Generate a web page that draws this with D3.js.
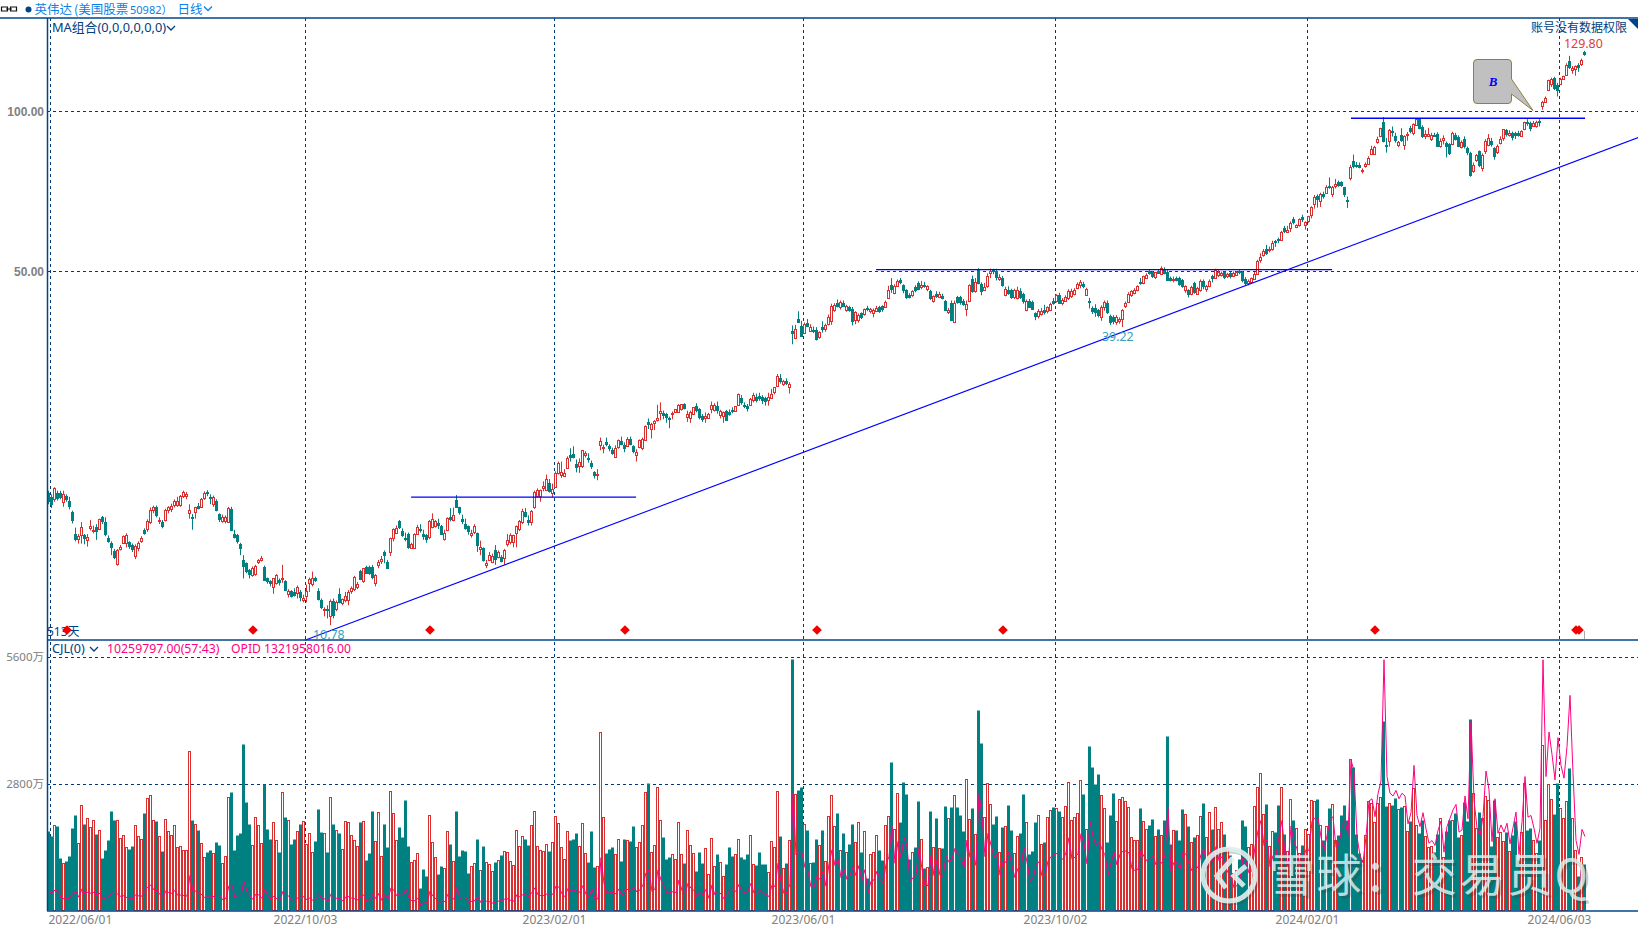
<!DOCTYPE html>
<html><head><meta charset="utf-8"><style>
html,body{margin:0;padding:0;background:#fff;overflow:hidden}
svg{display:block}
text{font-family:"Noto Sans","Noto Sans CJK SC",sans-serif}
</style><script src="https://cdnjs.cloudflare.com/ajax/libs/d3/7.8.5/d3.min.js"></script></head><body><svg id="c" width="1638" height="929"></svg>
<script>
// [open, high, low, close] per trading day (US$, log price panel)
const ohlc=[
/*0*/[19.10,19.3,18.2,18.35],[18.8,19.0,17.9,18.15],[18.6,19.6,18.4,19.55],[19.1,19.3,18.5,18.6],[19.1,19.3,18.6,18.7],[18.35,19.3,18.0,19.0],[18.85,19.0,18.4,18.55],[18.5,18.8,17.8,18.0],[17.6,17.7,16.75,16.9],[16.0,16.45,15.5,15.6],
/*10*/[15.65,16.0,15.35,15.85],[15.95,16.85,15.35,16.5],[15.9,16.0,15.3,15.6],[15.6,16.0,15.15,15.8],[16.4,17.0,16.25,16.55],[16.2,16.6,16.05,16.3],[16.5,16.7,15.6,16.15],[16.4,17.1,16.3,17.1],[17.2,17.3,16.7,16.85],[16.85,17.2,15.85,15.9],
/*20*/[15.75,15.9,15.4,15.45],[15.4,15.5,14.6,15.1],[14.85,15.0,14.35,14.4],[14.1,15.0,13.95,14.95],[15.0,15.25,14.9,15.1],[15.4,15.9,15.35,15.85],[15.35,16.05,15.1,15.9],[15.45,15.5,15.0,15.1],[15.25,15.35,14.8,14.95],[14.55,15.3,14.35,15.2],
/*30*/[15.1,15.5,14.85,15.4],[15.55,15.85,15.4,15.75],[16.25,16.4,15.95,16.0],[16.4,17.05,16.15,16.95],[16.85,17.95,16.7,17.75],[17.8,18.1,17.5,18.0],[17.95,18.1,17.2,17.25],[16.9,17.2,16.7,17.0],[16.85,17.0,16.4,16.5],[17.0,17.85,16.9,17.75],
/*40*/[17.75,18.05,17.5,18.0],[17.9,18.25,17.6,18.1],[18.15,18.6,17.95,18.45],[18.15,18.8,18.0,18.5],[18.1,18.95,18.0,18.85],[18.85,19.3,18.7,19.2],[18.85,19.2,18.6,19.05],[17.5,18.2,17.1,17.75],[17.2,17.45,16.3,17.05],[17.6,18.0,17.1,18.0],
/*50*/[18.05,18.3,17.8,17.85],[18.05,18.7,17.95,18.65],[18.7,19.25,18.55,19.1],[19.2,19.35,18.85,19.0],[18.75,19.0,18.2,18.55],[18.2,18.9,18.0,18.75],[18.5,18.6,17.65,17.75],[17.45,17.5,16.85,17.0],[16.95,17.4,16.8,17.25],[16.9,17.35,16.75,17.2],
/*60*/[16.85,18.0,16.8,17.9],[17.85,18.0,16.2,16.25],[16.0,16.3,15.7,15.75],[15.9,16.0,15.35,15.4],[15.35,15.4,14.6,15.0],[14.3,14.6,13.2,13.9],[14.1,14.15,13.5,13.55],[13.7,13.75,13.2,13.4],[13.4,13.9,13.3,13.8],[13.45,14.0,13.35,13.95],
/*70*/[14.15,14.35,14.05,14.3],[14.3,14.55,14.2,14.4],[13.85,13.95,13.05,13.05],[13.2,13.25,12.9,13.0],[13.05,13.1,12.75,12.9],[12.7,13.2,12.35,13.2],[12.95,13.45,12.85,13.4],[13.1,13.2,12.8,12.95],[13.2,14.0,12.95,13.25],[13.05,13.1,12.5,12.5],
/*80*/[12.35,12.6,12.15,12.5],[12.5,12.55,12.15,12.2],[12.45,12.65,12.2,12.25],[12.35,12.8,12.1,12.7],[12.45,12.55,11.95,12.15],[12.05,12.3,11.9,12.15],[12.25,12.85,11.9,12.5],[12.9,13.25,12.45,13.15],[12.9,13.6,12.75,13.25],[13.2,13.3,13.0,13.05],
/*90*/[12.5,12.65,12.0,12.0],[12.0,12.1,11.55,11.6],[11.5,11.65,11.2,11.55],[11.55,11.75,11.1,11.5],[11.2,12.05,10.78,11.95],[11.95,12.1,11.1,11.2],[11.55,12.0,11.45,11.9],[12.35,12.65,11.85,11.9],[11.85,12.1,11.75,12.05],[12.05,12.45,11.9,12.25],
/*100*/[12.05,12.55,11.75,12.45],[12.5,12.75,12.35,12.65],[12.65,13.35,12.5,13.3],[12.75,13.0,12.6,12.9],[13.65,13.7,13.1,13.1],[13.05,13.8,12.95,13.8],[13.85,13.95,13.45,13.45],[13.85,13.95,13.4,13.45],[13.85,14.0,13.15,13.2],[12.95,13.45,12.75,13.4],
/*110*/[13.95,14.3,13.8,14.15],[14.2,14.55,14.05,14.35],[14.8,14.9,14.1,14.55],[14.2,14.3,13.75,13.75],[14.75,15.75,14.55,15.7],[15.7,16.4,15.5,16.35],[16.1,16.6,16.0,16.45],[16.9,17.0,16.35,16.4],[16.2,16.4,15.8,15.85],[15.7,16.1,15.5,15.55],
/*120*/[16.0,16.1,15.0,15.05],[15.05,15.4,15.0,15.3],[15.05,16.05,15.0,16.0],[16.0,16.65,15.95,16.5],[16.35,16.7,16.1,16.2],[16.0,16.3,15.6,15.8],[15.9,16.0,15.4,15.55],[15.75,17.0,15.65,16.9],[16.55,17.5,16.4,17.1],[16.55,17.0,16.45,16.9],
/*130*/[16.75,17.1,16.35,16.55],[16.6,16.65,15.95,15.95],[15.7,16.3,15.55,16.1],[16.3,17.2,16.2,17.15],[17.2,17.9,16.9,16.95],[16.95,17.95,16.9,17.35],[18.55,18.95,17.95,17.95],[17.95,18.0,17.4,17.5],[17.1,17.4,16.7,16.9],[16.7,17.1,16.3,16.35],
/*140*/[16.55,16.6,15.95,16.1],[15.95,16.3,15.75,16.1],[16.15,16.7,16.0,16.55],[16.05,16.1,14.8,15.2],[15.0,15.55,14.6,15.15],[15.05,15.1,14.2,14.25],[13.95,14.3,13.8,14.1],[14.3,14.8,14.25,14.6],[14.2,14.7,14.1,14.55],[14.9,15.25,14.0,14.25],
/*150*/[14.5,14.9,14.4,14.8],[14.5,14.6,14.15,14.2],[14.4,15.0,14.0,14.9],[15.3,16.0,15.15,15.6],[15.45,16.05,15.3,15.9],[15.45,15.95,15.1,15.95],[16.1,16.6,15.1,16.6],[16.3,17.0,16.2,16.9],[16.85,17.85,16.7,17.65],[17.6,17.9,17.2,17.25],
/*160*/[17.0,17.35,16.6,16.75],[16.85,17.75,16.6,17.7],[18.0,19.3,17.85,19.2],[18.9,19.5,18.75,19.4],[18.9,19.4,18.4,19.4],[19.55,20.1,19.25,19.7],[19.4,20.7,19.3,20.35],[19.95,20.3,19.15,19.15],[19.1,19.9,18.75,19.45],[19.6,21.0,19.55,20.85],
/*170*/[20.85,21.9,20.7,21.75],[20.6,21.9,20.4,20.9],[20.6,21.2,20.5,20.85],[21.3,22.4,21.2,22.2],[22.5,23.2,21.9,22.2],[22.65,23.4,22.2,22.3],[21.7,22.1,20.9,21.3],[21.5,22.2,20.85,21.85],[21.5,23.0,21.3,23.0],[22.5,22.9,22.3,22.7],
/*180*/[22.25,22.7,21.8,22.05],[21.75,22.0,21.2,21.35],[20.9,21.0,20.35,20.5],[20.7,21.2,20.2,20.75],[23.5,24.3,23.0,23.95],[23.2,23.55,22.7,23.35],[23.85,24.3,23.4,23.5],[23.4,23.6,22.9,23.05],[23.05,23.25,22.55,22.65],[22.4,23.5,22.3,23.25],
/*190*/[23.3,24.1,23.15,24.0],[23.95,24.4,23.5,23.55],[23.55,23.8,22.8,23.1],[23.5,24.35,23.4,24.2],[24.2,24.4,23.5,23.6],[23.4,23.5,22.7,22.8],[22.5,23.1,21.9,22.8],[23.3,24.1,23.2,24.0],[23.3,24.3,23.0,24.2],[24.05,25.6,23.95,25.5],
/*200*/[26.0,26.4,25.2,25.65],[25.2,25.9,24.2,25.75],[25.85,26.2,25.1,26.1],[26.2,28.0,26.05,26.4],[27.1,28.3,26.2,27.3],[27.0,27.3,26.3,26.6],[26.9,27.05,25.9,26.4],[26.4,26.6,25.3,26.2],[26.85,27.2,26.3,27.0],[27.2,27.5,27.1,27.5],
/*210*/[27.2,28.1,27.1,28.0],[27.5,28.1,27.3,28.05],[28.1,28.2,27.45,27.5],[26.6,27.3,26.0,26.9],[26.4,27.3,25.9,27.1],[26.9,27.7,26.8,27.7],[27.85,28.2,27.1,27.2],[27.5,27.6,26.3,26.45],[26.7,26.9,26.0,26.2],[26.45,27.1,25.9,26.65],
/*220*/[26.4,27.05,26.35,26.9],[27.5,28.4,27.0,28.0],[27.4,28.2,27.2,28.0],[27.85,28.4,26.95,27.2],[26.8,27.4,26.4,27.25],[26.7,27.2,25.9,27.15],[27.25,27.4,26.1,26.1],[27.2,27.45,26.7,26.8],[27.4,27.7,27.0,27.15],[27.25,27.8,27.2,27.8],
/*230*/[28.05,29.4,28.0,29.4],[28.8,29.2,28.0,28.2],[27.95,28.3,27.6,27.75],[27.9,28.1,27.2,27.5],[28.0,28.85,27.9,28.75],[28.6,29.5,28.3,29.2],[29.0,29.4,28.3,28.5],[29.15,29.5,28.5,28.8],[29.0,29.2,28.1,28.5],[28.8,29.0,27.9,28.3],
/*240*/[28.6,29.5,27.9,29.0],[28.9,30.0,28.8,29.4],[29.5,30.2,29.3,30.2],[30.45,32.0,30.3,31.75],[31.5,32.0,30.7,31.0],[30.7,31.2,30.4,31.1],[31.0,31.4,30.5,30.6],[30.25,30.9,29.4,30.6],[38.5,39.5,36.4,37.95],[37.4,39.6,37.2,38.9],
/*250*/[40.6,42.0,39.9,39.9],[39.4,40.3,37.6,37.6],[38.3,40.0,38.2,39.8],[39.95,40.6,39.2,39.3],[38.7,39.7,38.4,39.3],[38.8,39.3,38.2,38.4],[38.8,39.2,37.0,37.2],[37.5,38.5,37.3,38.4],[39.2,40.2,38.3,38.7],[38.8,39.8,38.4,39.5],
/*260*/[39.7,41.4,39.5,41.0],[40.3,43.4,39.6,43.0],[42.2,43.5,41.9,43.2],[43.6,44.2,42.7,42.8],[42.9,44.0,42.3,43.8],[43.6,44.0,42.8,42.9],[42.2,43.2,41.9,42.9],[42.7,43.0,41.9,42.05],[42.5,42.8,39.5,40.1],[40.4,42.0,39.7,41.9],
/*270*/[40.4,41.6,40.0,41.3],[41.6,41.8,40.6,40.7],[41.5,42.5,41.2,42.4],[42.6,43.0,42.0,42.2],[42.1,42.6,41.6,42.4],[41.7,42.5,40.9,42.2],[42.1,43.0,42.0,42.6],[42.7,43.0,41.7,41.8],[42.9,43.1,41.9,42.2],[42.9,44.0,42.8,43.8],
/*280*/[44.5,46.9,44.3,46.1],[47.0,48.5,45.5,46.0],[45.5,47.2,45.2,46.8],[46.9,48.2,46.7,47.9],[48.0,48.5,47.2,47.3],[47.0,47.2,45.4,45.7],[46.0,46.2,44.3,44.5],[45.1,45.4,44.4,44.6],[45.0,46.0,44.7,45.8],[46.6,47.0,45.6,45.8],
/*290*/[47.4,47.8,46.0,46.0],[46.5,47.9,46.2,47.0],[47.0,47.7,46.5,46.6],[46.2,47.0,45.8,46.9],[45.8,46.1,44.1,44.3],[43.9,45.0,43.6,44.8],[45.3,45.8,44.5,44.7],[44.8,45.7,44.6,45.3],[44.9,45.3,44.2,44.3],[44.0,44.1,42.0,42.1],
/*300*/[41.8,42.6,41.5,42.2],[43.6,44.0,40.4,40.4],[40.1,44.0,40.0,43.6],[44.6,44.9,43.4,43.5],[44.6,44.9,43.2,43.4],[44.0,44.3,43.0,43.2],[42.4,44.0,41.1,43.4],[43.9,47.2,43.7,47.0],[48.3,49.0,45.5,45.7],[45.8,48.5,45.5,47.7],
/*310*/[50.4,50.6,47.2,47.2],[47.2,47.6,45.0,45.6],[46.1,47.5,45.9,46.7],[46.9,49.5,46.5,49.0],[49.5,50.5,48.5,49.9],[50.2,50.5,49.3,49.7],[50.1,50.5,48.0,48.6],[48.3,49.3,47.9,48.8],[48.6,48.9,46.7,46.9],[45.1,46.7,44.8,46.3],
/*320*/[46.1,46.8,45.1,45.3],[46.1,46.3,44.3,44.5],[44.6,46.3,44.3,46.0],[44.5,46.7,44.2,46.1],[45.8,46.4,44.3,44.5],[45.3,45.5,43.4,43.8],[42.3,44.2,42.0,44.0],[44.0,44.3,42.7,42.7],[43.7,44.0,42.3,42.3],[41.6,41.8,40.4,40.8],
/*330*/[41.1,42.4,40.7,42.0],[41.5,42.6,41.2,42.0],[42.3,43.2,41.4,41.7],[41.9,42.9,41.6,42.7],[42.3,43.6,42.0,43.4],[44.0,44.5,43.2,43.4],[44.0,45.2,43.6,45.1],[45.1,45.5,43.4,43.4],[43.5,44.5,43.1,44.1],[44.0,45.0,43.8,44.7],
/*340*/[44.5,46.2,44.1,45.9],[45.0,46.3,44.5,45.9],[45.4,46.4,45.0,46.1],[46.4,47.6,46.2,47.2],[47.0,48.1,46.4,47.6],[47.3,47.7,46.4,46.6],[45.1,46.5,44.9,46.3],[44.0,44.5,42.5,43.7],[42.6,42.9,41.5,41.9],[42.6,43.3,41.0,41.6],
/*350*/[42.2,42.4,40.9,41.2],[41.0,43.1,40.3,42.8],[42.7,44.0,42.1,43.7],[43.5,44.0,41.5,41.7],[41.2,41.4,39.6,39.9],[41.0,41.3,39.7,40.2],[40.1,41.3,39.6,41.0],[40.2,40.9,39.8,40.6],[40.7,42.4,39.22,42.3],[43.0,43.8,42.6,43.6],
/*360*/[43.8,45.6,43.6,45.3],[45.1,46.0,44.7,45.9],[45.5,46.4,45.2,46.1],[46.1,47.0,45.8,46.9],[47.7,48.5,47.1,47.2],[47.5,49.0,47.2,48.9],[48.6,49.5,48.3,49.2],[50.0,50.2,49.2,49.3],[49.8,50.0,48.5,48.7],[48.7,49.8,48.3,49.7],
/*370*/[50.0,50.2,49.4,49.4],[49.4,51.0,49.2,50.6],[50.3,50.8,49.3,49.5],[49.8,50.2,47.9,47.9],[48.6,48.8,47.8,47.9],[48.1,48.8,47.6,48.4],[48.6,48.8,47.8,47.9],[48.6,48.8,46.9,47.1],[48.1,48.3,46.5,46.6],[46.0,47.0,45.5,46.9],
/*380*/[46.0,46.2,44.6,45.0],[45.3,46.9,45.0,46.6],[47.4,47.7,45.3,45.3],[45.4,46.7,45.2,46.5],[46.1,48.2,45.7,47.9],[47.9,48.2,46.2,46.6],[46.1,47.1,45.7,46.8],[46.9,48.2,46.6,47.9],[48.9,49.2,47.6,48.2],[48.5,50.5,48.3,50.2],
/*390*/[49.0,50.2,48.7,49.7],[49.0,49.9,48.8,49.5],[49.7,49.9,48.3,48.4],[48.8,49.6,48.5,49.3],[49.5,49.8,48.4,48.7],[49.0,49.9,48.7,49.6],[49.2,50.0,49.0,49.8],[50.0,50.3,49.3,49.5],[49.8,50.0,47.6,47.9],[48.4,48.7,47.0,47.3],
/*400*/[47.5,48.2,47.0,47.9],[47.7,48.6,47.4,48.5],[48.3,49.8,48.1,49.4],[49.5,52.5,49.3,52.3],[52.4,54.0,51.8,53.2],[53.6,55.0,53.2,54.6],[55.1,56.0,53.6,54.0],[54.6,55.6,54.2,54.9],[55.0,57.0,54.6,56.5],[56.9,57.2,55.5,56.4],
/*410*/[57.4,57.8,56.4,56.9],[57.4,59.5,57.2,59.3],[60.2,60.8,58.9,59.2],[59.2,60.8,59.0,59.7],[60.2,62.0,59.2,61.5],[62.5,63.2,61.2,61.5],[60.6,61.2,60.2,61.0],[60.8,62.8,60.6,62.5],[63.2,63.8,61.8,62.4],[60.9,62.0,59.8,61.8],
/*420*/[62.0,63.5,61.6,63.4],[63.8,66.2,62.8,66.0],[67.0,69.5,65.5,69.0],[69.3,69.7,65.8,68.0],[67.7,70.2,66.0,69.8],[69.8,70.5,68.4,68.8],[70.3,72.5,70.0,72.0],[72.3,75.0,71.4,71.7],[69.8,72.3,68.9,72.0],[72.5,74.5,71.5,73.0],
/*430*/[73.5,74.0,72.0,72.1],[73.4,73.8,72.0,72.1],[71.8,72.0,68.9,69.3],[68.0,69.0,65.7,67.5],[75.0,79.2,74.0,78.6],[80.6,82.8,78.0,78.4],[79.2,80.2,78.2,78.5],[79.2,80.0,78.0,78.2],[77.0,78.0,76.3,77.3],[78.8,80.0,78.2,79.4],
/*440*/[79.6,82.2,79.2,81.6],[83.2,86.0,82.6,85.0],[83.3,86.0,83.2,85.7],[87.5,89.5,86.8,88.5],[89.9,93.0,89.5,93.0],[95.5,97.4,87.3,87.4],[86.2,89.0,83.5,85.6],[87.8,92.5,85.7,92.2],[91.8,93.5,89.5,91.2],[89.6,91.0,87.2,87.5],
/*450*/[86.2,87.8,85.5,87.4],[90.3,92.8,87.5,88.0],[86.3,90.0,84.5,89.6],[90.2,91.3,87.9,90.7],[92.9,93.8,90.8,91.3],[91.0,94.8,90.0,94.5],[94.5,97.0,94.0,96.8],[96.8,97.0,92.4,92.8],[93.5,94.0,89.0,89.6],[89.9,92.0,88.5,90.7],
/*460*/[90.0,93.0,89.5,90.6],[88.5,91.0,87.8,90.0],[90.3,91.0,89.5,90.0],[90.6,91.2,85.7,85.8],[86.3,88.8,85.3,88.0],[88.0,90.0,86.5,88.9],[87.0,87.6,81.8,85.5],[86.8,87.0,82.6,83.0],[86.5,91.4,86.2,90.8],[90.0,91.0,88.0,88.2],
/*470*/[89.5,90.0,85.5,85.7],[85.6,88.0,85.0,87.3],[88.7,89.6,85.0,85.7],[85.3,85.7,82.6,83.5],[83.2,83.8,75.2,75.4],[77.3,80.0,76.5,79.2],[80.7,83.0,80.2,82.5],[84.0,84.3,78.4,78.6],[78.0,83.2,77.0,82.5],[84.0,88.5,83.0,87.8],
/*480*/[86.3,90.5,85.8,88.9],[87.7,89.0,85.7,86.2],[85.2,85.5,81.0,82.0],[83.6,86.5,83.0,85.8],[87.0,89.6,86.5,88.7],[88.6,92.5,87.9,92.3],[91.9,92.5,89.5,90.0],[90.0,92.0,89.5,90.9],[90.8,91.5,88.0,88.8],[90.9,91.4,88.6,89.8],
/*490*/[90.9,91.8,89.5,89.8],[90.0,92.0,89.8,91.8],[92.4,95.5,92.0,95.2],[95.4,96.5,93.8,94.5],[95.0,95.5,91.6,92.5],[93.8,95.8,93.5,95.0],[93.8,95.9,93.0,95.4],[95.8,96.5,93.5,94.9],[102.0,104.5,100.5,103.8],[104.0,106.5,103.5,106.0],
/*500*/[109.5,114.5,109.0,114.2],[112.5,115.5,111.0,114.8],[115.2,116.0,109.5,110.0],[112.0,113.0,106.5,109.0],[112.5,115.5,112.0,115.0],[115.0,116.5,114.5,116.4],[117.0,123.0,116.5,122.3],[124.2,127.0,120.0,120.5],[119.3,121.5,117.5,120.5],[119.7,121.8,116.5,121.4],
/*510*/[122.2,123.0,118.5,120.5],[122.2,125.5,121.5,124.5],[129.2,129.80,127.0,127.4]
];
// daily volume, 万股
const volumes=[
1742,1631,1882,1867,1159,1041,1092,1203,1823,2111,1483,2325,1911,2037,1845,1993,1690,1771,1159,1336,
1557,2199,2000,1993,1594,1660,1395,1358,1424,1882,1638,1572,2155,2480,2546,1993,1978,1638,1314,2015,
1749,1660,1882,1395,1417,1336,1336,3520,2000,1904,1779,1483,1173,1292,1336,1262,1513,1446,1041,1196,
2502,2620,1336,1668,1712,3683,2399,1911,1439,2059,1882,1483,2797,1801,1579,1948,1550,1292,2613,2066,
1993,1469,1579,1749,1911,1970,1469,1705,1284,1535,2244,1734,1705,1292,2502,1911,1771,1712,1358,1970,
1948,1660,1550,1417,1956,1970,1114,1269,2199,1528,2170,1196,1911,1395,2635,2148,1550,1845,1624,2443,
1424,1063,1107,1262,494,915,760,2103,1506,1173,804,982,930,1749,1469,1085,2199,1203,1336,1314,
827,974,1041,1572,886,1424,1063,1018,863,1063,1107,1225,1306,1292,1092,1004,1771,1417,1638,1579,
1446,1882,2192,1417,1328,1306,1461,1314,1506,2081,1926,1395,1129,1749,1557,1579,1712,1417,1926,1262,
1070,1756,959,974,3941,2059,1269,1358,1402,1240,1572,1092,1579,1550,1535,1867,1395,1506,1882,2613,
2819,1284,1439,2723,1993,1624,1137,1181,1240,1129,1948,1240,1048,1771,1439,1262,871,1292,1048,1373,
797,1594,974,1247,1063,753,1026,1402,1203,1240,1572,1181,1137,1247,1660,1018,1004,1292,1026,1026,
841,1528,1395,2635,1646,930,1048,1550,5565,2568,2664,2731,1904,1779,1041,1070,1579,1439,1779,1085,
2081,2546,1860,2155,1328,1712,1284,1469,1911,1506,1948,1292,1749,716,1240,1284,1660,1336,1114,1882,
2081,3284,1793,2590,1956,2841,2576,1137,1284,1402,2421,1572,937,952,2199,1395,2044,1373,1373,2310,
2037,2288,2546,2288,2111,1756,2900,2015,2266,1683,4435,3705,2059,2812,2347,1911,2089,1284,1845,1860,
2332,1779,1262,1638,1712,2576,1948,1247,1314,1956,2103,1461,1513,2059,2214,2288,2258,2199,2059,2310,
2834,1993,2059,2148,2878,2576,1793,3638,3173,2797,3018,2546,2258,1513,2111,2598,1970,2465,2502,2421,
2280,1616,1550,1550,2266,1970,1793,1889,2022,1638,1801,1660,2000,3860,1469,1771,1779,1557,2244,2125,
1860,1498,1624,1653,2081,2369,1609,2162,1793,2273,1786,1941,1683,1365,1218,812,886,1129,1993,1860,
1387,1461,2310,2723,3026,2125,2347,1417,1742,1727,2325,2716,1683,1314,2450,1993,1808,1255,1439,1786,
1683,2435,2406,2458,1882,1550,1860,2258,2339,1550,1660,2103,2325,1993,3336,3166,1683,1255,1107,1660,
2406,2362,1956,2362,2494,4184,2310,2362,2325,2480,2229,2288,2303,1742,1970,2708,1875,1705,1993,1638,
1387,1417,1284,1683,2030,1181,1749,1993,1993,2155,1624,1653,2391,1970,4229,2583,1808,2170,2044,2524,
2435,1417,2435,1609,1734,1520,1734,1306,1660,1970,1107,1727,2804,1771,1815,1550,1255,1550,3646,1993,
2790,2458,2125,2812,2258,2037,2406,3144,2037,1328,753,1166,1018
];
// OPID turnover line, 亿
const opid=[
3.2,3.0,3.6,3.5,2.2,2.0,2.0,2.2,3.1,3.3,2.3,3.8,3.0,3.2,3.0,3.2,2.7,3.0,2.0,2.2,
2.4,3.3,2.9,2.9,2.4,2.6,2.2,2.1,2.1,2.8,2.5,2.5,3.5,4.2,4.5,3.6,3.5,2.8,2.2,3.5,
3.1,3.0,3.5,2.6,2.7,2.6,2.5,6.2,3.4,3.4,3.2,2.7,2.2,2.5,2.5,2.4,2.7,2.5,1.8,2.1,
4.4,4.5,2.1,2.6,2.6,5.2,3.3,2.6,1.9,2.9,2.7,2.1,3.8,2.4,2.0,2.5,2.0,1.7,3.4,2.6,
2.5,1.8,1.9,2.2,2.3,2.4,1.8,2.2,1.7,2.0,2.8,2.0,2.0,1.5,2.9,2.2,2.1,2.1,1.6,2.4,
2.4,2.1,2.0,1.8,2.6,2.7,1.5,1.7,2.9,2.0,3.0,1.7,2.8,1.9,4.0,3.5,2.5,3.0,2.6,3.8,
2.2,1.6,1.7,2.1,0.8,1.5,1.2,3.4,2.5,2.0,1.3,1.6,1.5,2.9,2.5,1.9,4.0,2.1,2.3,2.2,
1.3,1.6,1.7,2.4,1.3,2.0,1.5,1.5,1.2,1.5,1.6,1.7,2.0,2.0,1.7,1.6,2.8,2.3,2.8,2.7,
2.4,3.2,4.0,2.7,2.6,2.6,2.9,2.5,2.9,4.3,4.1,2.9,2.4,3.9,3.4,3.5,3.7,3.1,4.4,2.8,
2.3,3.8,2.0,2.0,9.4,4.8,3.0,3.1,3.2,2.9,3.8,2.6,3.6,3.7,3.6,4.2,3.2,3.6,4.5,6.7,
7.2,3.3,3.8,7.2,5.4,4.3,3.0,3.1,3.3,3.1,5.4,3.5,2.9,4.8,3.9,3.5,2.4,3.4,2.7,3.7,
2.1,4.5,2.7,3.4,2.9,2.0,2.7,3.8,3.3,3.4,4.6,3.3,3.1,3.4,4.8,3.0,2.9,3.7,2.9,2.9,
2.4,4.5,4.2,8.4,5.1,2.9,3.2,4.7,21.0,9.9,10.6,10.3,7.6,7.0,4.1,4.1,6.1,5.5,7.0,4.3,
8.3,10.8,8.0,9.2,5.8,7.4,5.5,6.2,7.8,6.2,8.0,5.3,7.3,3.0,5.2,5.4,7.0,5.6,4.7,8.2,
9.6,15.2,8.4,12.3,9.3,13.0,11.5,5.1,5.8,6.4,11.1,7.4,4.4,4.4,9.8,6.2,9.1,6.2,6.1,9.7,
8.6,9.2,11.1,10.0,9.2,7.6,12.6,9.5,10.3,8.0,21.0,16.9,9.6,13.8,11.7,9.5,10.2,6.3,8.6,8.6,
10.6,7.9,5.8,7.5,7.6,11.3,8.6,5.3,5.6,8.0,8.7,6.1,6.3,8.8,9.6,9.9,10.2,9.5,9.1,10.3,
13.0,9.1,9.5,10.1,13.7,12.0,8.3,15.9,13.3,11.6,12.4,10.9,9.9,6.3,8.4,10.4,8.1,10.0,10.6,10.6,
10.3,7.4,7.1,7.3,10.7,9.6,8.8,9.3,9.8,8.1,8.9,8.4,9.9,18.5,7.0,8.6,8.5,7.3,10.4,10.0,
8.4,7.0,7.4,7.7,10.0,11.0,7.5,10.4,8.6,11.4,8.9,9.6,8.1,6.7,5.9,4.0,4.4,5.6,9.5,8.8,
6.6,7.1,11.4,14.2,16.1,11.6,12.7,7.8,9.8,9.7,13.2,16.1,10.0,7.8,15.1,12.3,11.0,7.8,9.0,10.9,
10.7,16.0,16.6,16.7,13.1,10.7,13.4,16.2,16.8,11.3,12.0,15.0,16.1,13.5,27.0,25.0,13.2,9.8,8.5,13.2,
19.6,20.0,16.8,20.9,23.2,45.0,24.0,21.0,20.5,21.5,20.0,21.0,20.5,15.5,17.5,26.0,17.0,15.0,17.5,14.6,
12.0,12.5,11.6,14.3,16.0,10.4,15.0,16.5,18.0,19.0,14.0,14.4,20.5,16.4,34.0,19.8,14.8,13.3,16.8,25.0,
21.6,12.3,20.0,13.8,15.3,14.0,15.6,11.9,14.8,17.6,10.0,15.8,24.0,16.7,17.0,14.7,12.0,14.7,45.0,24.0,
32.0,28.0,23.4,31.0,26.0,23.7,29.4,38.6,24.6,12.5,10.0,14.5,13.2
];
const priceTicks=[100,50];
const volumeTicks=[5600,2800];
const dateIndex=[1,86,169,252,336,420,504];
const dateLabels=['2022/06/01','2022/10/03','2023/02/01','2023/06/01','2023/10/02','2024/02/01','2024/06/03'];
const signalDays=[6,68,127,192,256,318,442,509,510];
// drawn lines: [fromDay,fromPrice,toDay,toPrice]
const trendLine=[85.3,10.1,530.3,89.4];
const resistLines=[[120.7,18.78,195.7,18.78],[275.7,50.3,427.7,50.3],[434,96.9,512,96.9]];

const NAVY='#004080',GRIDC='#003878',RED='#d9302f',TEAL='#008080',PINK='#ff0080',GRAY='#808080';
const svg=d3.select('#c');
const x=d3.scaleBand().domain(d3.range(ohlc.length)).range([47.5,47.5+3*ohlc.length]).paddingInner(0).paddingOuter(0);
const y=d3.scaleLog().base(2).domain([50,100]).range([271,111]);
const yv=d3.scaleLinear().domain([0,5600]).range([910,657]);
const yo=d3.scaleLinear().domain([0,45.5]).range([910,657]);
const xl=d=>47.5+3*d+1.5; // continuous day position derived from band scale step
const isUp=d=>d[3]>=d[0];

// grid
const grid=svg.append('g').attr('stroke',GRIDC).attr('stroke-dasharray','3,3').attr('stroke-width',1).attr('fill','none');
grid.selectAll('line.p').data(priceTicks).join('line').attr('x1',47).attr('x2',1638).attr('y1',d=>Math.round(y(d))+.5).attr('y2',d=>Math.round(y(d))+.5);
grid.selectAll('line.v').data(volumeTicks).join('line').attr('class','v').attr('x1',47).attr('x2',1638).attr('y1',d=>Math.round(yv(d))+.5).attr('y2',d=>Math.round(yv(d))+.5);
grid.selectAll('line.t').data(dateIndex).join('line').attr('class','t').attr('x1',d=>x(d)).attr('x2',d=>x(d)).attr('y1',18).attr('y2',910);

// volume bars
const vg=svg.append('g');
vg.selectAll('rect').data(volumes).join('rect')
 .attr('x',(d,i)=>isUp(ohlc[i])?x(i):x(i)-.5)
 .attr('width',(d,i)=>isUp(ohlc[i])?2:3)
 .attr('y',d=>Math.round(yv(d))+.5)
 .attr('height',d=>910.5-Math.round(yv(d))-.5)
 .attr('fill',(d,i)=>isUp(ohlc[i])?'#fff':TEAL)
 .attr('stroke',(d,i)=>isUp(ohlc[i])?RED:'none');
// OPID line
svg.append('path').datum(opid).attr('fill','none').attr('stroke',PINK).attr('stroke-width',1)
 .attr('d',d3.line().x((d,i)=>x(i)+1.5).y(d=>yo(d)));

// candles
const cg=svg.append('g');
cg.selectAll('line').data(ohlc).join('line')
 .attr('x1',(d,i)=>x(i)+1).attr('x2',(d,i)=>x(i)+1)
 .attr('y1',d=>y(d[1])).attr('y2',d=>y(d[2]))
 .attr('stroke',d=>isUp(d)?RED:TEAL).attr('stroke-width',1);
cg.selectAll('rect').data(ohlc).join('rect')
 .attr('x',(d,i)=>isUp(d)?x(i):x(i)-.5)
 .attr('width',d=>isUp(d)?2:3)
 .attr('y',d=>{const t=y(Math.max(d[0],d[3]));return isUp(d)?Math.round(t)+.5:Math.round(t)})
 .attr('height',d=>Math.max(isUp(d)?1:2,Math.round(Math.abs(y(d[0])-y(d[3])))))
 .attr('fill',d=>isUp(d)?'#fff':TEAL)
 .attr('stroke',d=>isUp(d)?RED:'none');

// drawn lines
const pl=svg.append('g').attr('stroke','#0000ff').attr('fill','none');
pl.append('line').attr('stroke-width',1.1).attr('x1',xl(trendLine[0])).attr('y1',y(trendLine[1])).attr('x2',xl(trendLine[2])).attr('y2',y(trendLine[3]));
pl.selectAll('line.h').data(resistLines).join('line').attr('class','h').attr('stroke-width',1.3)
 .attr('x1',d=>xl(d[0])).attr('y1',d=>y(d[1])).attr('x2',d=>xl(d[2])).attr('y2',d=>y(d[3]));

// frame
const fr=svg.append('g').attr('stroke','#004488').attr('stroke-width',1.5);
fr.append('line').attr('x1',0).attr('x2',1638).attr('y1',18).attr('y2',18);
fr.append('line').attr('x1',47).attr('x2',1638).attr('y1',640).attr('y2',640);
fr.append('line').attr('x1',47).attr('x2',1638).attr('y1',911).attr('y2',911);
fr.append('line').attr('x1',47.5).attr('x2',47.5).attr('y1',18).attr('y2',911);

// axes
const ax=svg.append('g').attr('transform','translate(47,1)')
 .call(d3.axisLeft(y).tickValues(priceTicks).tickSize(0).tickPadding(3).tickFormat(d3.format('.2f')));
ax.select('.domain').remove();
ax.selectAll('text').attr('fill',GRAY).style('font-family','"Liberation Sans"').style('font-size','12px').style('font-weight','bold');
const av=svg.append('g').attr('transform','translate(47,0)')
 .call(d3.axisLeft(yv).tickValues(volumeTicks).tickSize(0).tickPadding(3).tickFormat(d=>d+'万'));
av.select('.domain').remove();
av.selectAll('text').attr('fill',GRAY).style('font-size','11.5px').attr('dy','.32em');
const ad=svg.append('g').attr('transform','translate(0,911)')
 .call(d3.axisBottom(x).tickValues(dateIndex).tickSize(0).tickPadding(4).tickFormat((d,i)=>dateLabels[i]));
ad.select('.domain').remove();
ad.selectAll('text').attr('fill',GRAY).style('font-size','12px').attr('x',(d,i)=>i==0?-3.5:-1.5).attr('text-anchor',(d,i)=>i==0?'start':'middle');

// texts
function T(s,xp,yp,o={}){const t=svg.append('text').attr('x',xp).attr('y',yp).text(s).attr('fill',o.c||NAVY).style('font-size',(o.s||12)+'px');
 if(o.a)t.attr('text-anchor',o.a);if(o.f)t.style('font-family',o.f);if(o.w)t.style('font-weight',o.w);if(o.i)t.style('font-style','italic');return t;}
const CJK='"Noto Sans CJK SC"';
function chev(cx,cy,c){svg.append('path').attr('d',`M${cx-4} ${cy-2}L${cx} ${cy+2}L${cx+4} ${cy-2}`).attr('fill','none').attr('stroke',c).attr('stroke-width',1.3);}
// top bar
svg.append('path').attr('d','M1.5 7h6v4h-6zM10.5 7h6v4h-6zM6 9h6').attr('fill','none').attr('stroke','#111').attr('stroke-width',1.2);
svg.append('circle').attr('cx',28.5).attr('cy',9.5).attr('r',3).attr('fill','#004488');
T('英伟达',34.5,14,{c:'#0a80e8',s:12.5,f:CJK});
T('(美国股票',74,14,{c:'#0a80e8',s:12.5,f:CJK});
T('50982）',130,14,{c:'#0a80e8',s:11});
T('日线',177.5,14,{c:'#0a80e8',s:12.5,f:CJK});
chev(208,8.5,'#0a80e8');
T('MA组合(0,0,0,0,0,0)',52,32,{s:12.8});
chev(171,28,'#004080');
T('账号没有数据权限',1627,32,{a:'end',s:12,f:CJK});
svg.append('path').attr('d','M1628 19H1638V29Z').attr('fill','#004488');
T('129.80',1564,48,{c:'#e03a3a',s:12.4});
T('10.78',313,639,{c:'#3a9fb8',s:12.4});
T('39.22',1102,341,{c:'#3a9fb8',s:12.4});
T('513天',47,636,{s:12});
// signals (above the day-count text)
svg.append('g').selectAll('path').data(signalDays).join('path').attr('fill','#f00000')
 .attr('d',d3.symbol().type(d3.symbolDiamond2).size(60))
 .attr('transform',d=>`translate(${x(d)+1.5},630)`);
svg.append('line').attr('x1',1584.5).attr('x2',1584.5).attr('y1',631).attr('y2',639).attr('stroke','#aaa');
T('CJL(0)',52,653,{s:12.6});
chev(94,649,'#004080');
T('10259797.00(57:43)',107,653,{c:PINK,s:12.3});
T('OPID 1321958016.00',231,653,{c:PINK,s:12.2});

// callout
svg.append('path').attr('d','M1477 59.5H1508Q1511.5 59.5 1511.5 63V79L1533 110.5L1511.5 94V100Q1511.5 103.5 1508 103.5H1477Q1473.5 103.5 1473.5 100V63Q1473.5 59.5 1477 59.5Z')
 .attr('fill','#c0c0c0').attr('stroke','#8f8040').attr('stroke-width',1);
T('B',1493,86,{c:'#0000ff',s:13,f:'"Liberation Serif"',w:'bold',i:1,a:'middle'});

// watermark
const wm=svg.append('g');
const wt='雪球：交易员Q';
wm.append('text').attr('x',1272).attr('y',895).text(wt).attr('fill','rgba(60,60,60,.28)').style('font-size','45px').style('font-family',CJK).style('letter-spacing','2.6px');
wm.append('text').attr('x',1269).attr('y',892).text(wt).attr('fill','rgba(214,238,238,.85)').style('font-size','45px').style('font-family',CJK).style('letter-spacing','2.6px');
wm.append('circle').attr('cx',1231).attr('cy',877).attr('r',26).attr('fill','none').attr('stroke','rgba(60,60,60,.25)').attr('stroke-width',5);
wm.append('circle').attr('cx',1229).attr('cy',875).attr('r',26).attr('fill','none').attr('stroke','rgba(225,240,240,.9)').attr('stroke-width',5);
wm.append('path').attr('d','M1233 858L1217 876L1226 888M1246 866L1234 876L1244 886').attr('fill','none').attr('stroke','rgba(225,240,240,.9)').attr('stroke-width',5);
</script></body></html>
